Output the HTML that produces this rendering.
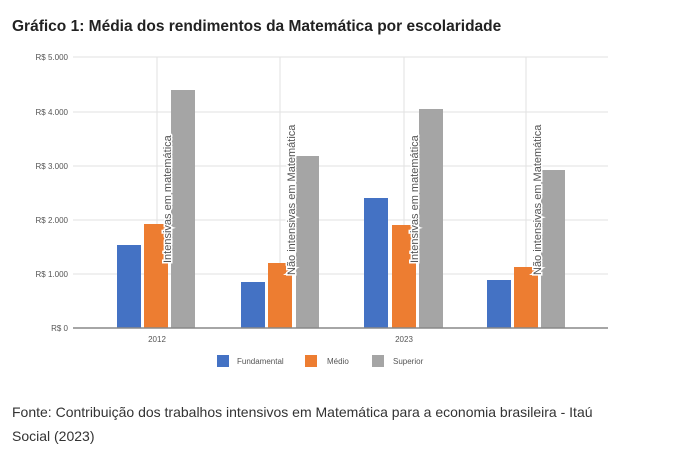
<!DOCTYPE html>
<html><head><meta charset="utf-8"><style>
body{margin:0;background:#fff;width:675px;height:450px;overflow:hidden;font-family:"Liberation Sans",sans-serif}
</style></head><body>
<svg width="675" height="450" xmlns="http://www.w3.org/2000/svg" style="position:absolute;left:0;top:0">
<text x="12" y="31" font-size="15.5" font-weight="bold" fill="#222">Gráfico 1: Média dos rendimentos da Matemática por escolaridade</text>
<g stroke="#e2e2e2" stroke-width="1">
<line x1="73" y1="57" x2="608" y2="57"/><line x1="73" y1="112" x2="608" y2="112"/>
<line x1="73" y1="166" x2="608" y2="166"/><line x1="73" y1="220" x2="608" y2="220"/>
<line x1="73" y1="274" x2="608" y2="274"/>
<line x1="157" y1="57" x2="157" y2="328"/><line x1="280" y1="57" x2="280" y2="328"/>
<line x1="404" y1="57" x2="404" y2="328"/><line x1="526" y1="57" x2="526" y2="328"/>
</g>
<g font-size="8" fill="#555" text-anchor="end">
<text x="68" y="60">R$ 5.000</text><text x="68" y="115">R$ 4.000</text>
<text x="68" y="169">R$ 3.000</text><text x="68" y="223">R$ 2.000</text>
<text x="68" y="277">R$ 1.000</text><text x="68" y="331">R$ 0</text>
</g>
<g>
<rect x="117" y="245" width="24" height="83" fill="#4472c4"/>
<rect x="144" y="224" width="24" height="104" fill="#ed7d31"/>
<rect x="171" y="90" width="24" height="238" fill="#a5a5a5"/>
<rect x="241" y="282" width="24" height="46" fill="#4472c4"/>
<rect x="268" y="263" width="24" height="65" fill="#ed7d31"/>
<rect x="296" y="156" width="23" height="172" fill="#a5a5a5"/>
<rect x="364" y="198" width="24" height="130" fill="#4472c4"/>
<rect x="392" y="225" width="24" height="103" fill="#ed7d31"/>
<rect x="419" y="109" width="24" height="219" fill="#a5a5a5"/>
<rect x="487" y="280" width="24" height="48" fill="#4472c4"/>
<rect x="514" y="267" width="24" height="61" fill="#ed7d31"/>
<rect x="541" y="170" width="24" height="158" fill="#a5a5a5"/>
</g>
<line x1="73" y1="328" x2="608" y2="328" stroke="#888" stroke-width="1.5"/>
<g font-size="11" fill="#555" stroke="#fff" stroke-width="3" paint-order="stroke">
<text transform="translate(171,263) rotate(-90)">Intensivas em matemática</text>
<text transform="translate(295,275) rotate(-90)">Não intensivas em Matemática</text>
<text transform="translate(418,263) rotate(-90)">Intensivas em matemática</text>
<text transform="translate(541,275) rotate(-90)">Não intensivas em Matemática</text>
</g>
<g font-size="8" fill="#555" text-anchor="middle">
<text x="157" y="342">2012</text><text x="404" y="342">2023</text>
</g>
<rect x="217" y="355" width="12" height="12" fill="#4472c4"/>
<rect x="305" y="355" width="12" height="12" fill="#ed7d31"/>
<rect x="372" y="355" width="12" height="12" fill="#a5a5a5"/>
<g font-size="8" fill="#555">
<text x="237" y="364">Fundamental</text><text x="327" y="364">Médio</text><text x="393" y="364">Superior</text>
</g>
<g font-size="14" fill="#333">
<text x="12" y="417">Fonte: Contribuição dos trabalhos intensivos em Matemática para a economia brasileira - Itaú</text>
<text x="12" y="441">Social (2023)</text>
</g>
</svg>
</body></html>
